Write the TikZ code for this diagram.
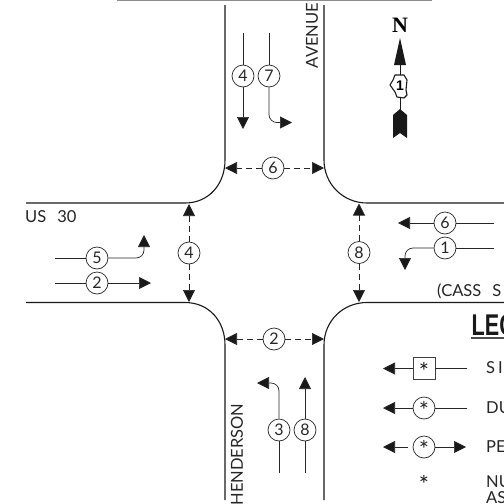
\documentclass[tikz,border=0pt]{standalone}
\usepackage{fontspec}
\setmainfont{Lato}
\newfontfamily\boldsans{Liberation Sans}
\newfontfamily\boldserif{Liberation Serif}
\usetikzlibrary{arrows.meta}
\tikzset{
  road/.style={line width=1.1pt,draw=black!90},
  flow/.style={line width=0.7pt,draw=black!85},
  tip/.style={-{Triangle[length=12pt,width=12pt,fill=black!90]}},
  ped/.style={line width=0.7pt,draw=black!85,dash pattern=on 6pt off 4pt},
  phase/.style={circle,draw=black!85,line width=0.7pt,fill=white,minimum size=22pt,inner sep=0pt,text=black!85,font=\fontsize{16}{16}\selectfont},
  cadtext/.style={inner sep=0pt,font=\fontsize{16.5}{17}\selectfont,text=black!85},
  sidetext/.style={cadtext,anchor=base west},
  starmark/.style={inner sep=0pt,text=black!90,font=\fontsize{24}{24}\selectfont}
}
\newcommand{\astmark}{\raisebox{-11.5pt}[0pt][0pt]{*}}
\begin{document}
\begin{tikzpicture}[x=1pt,y=-1pt]
\useasboundingbox (0,0) rectangle (504,504);
\fill[white] (0,0) rectangle (504,504);
% top edge
\draw[line width=1.5pt,draw=black!45] (117,0.5) -- (432,0.5);
% roads
\draw[road] (225,5) -- (225,160) .. controls (225,184) and (209,203) .. (185,203) -- (26,203);
\draw[road] (324,5) -- (324,160) .. controls (324,184) and (343,203) .. (367,203) -- (504,203);
\draw[road] (26,302.5) -- (185,302.5) .. controls (209,302.5) and (225,321) .. (225,345) -- (225,500);
\draw[road] (504,302.5) -- (367,302.5) .. controls (343,302.5) and (324,321) .. (324,345) -- (324,500);
% labels
\node[cadtext,rotate=90] (avenue) at (312,35.5) {AVENUE};
\node[cadtext,rotate=90] (henderson) at (237,454.5) {HENDERSON};
\node[sidetext] (us) at (25,222) {US\hspace{11pt}30};
\node[sidetext] (cass) at (437,296) {(CASS\hspace{11pt}S};
% south-bound
\node[phase] (a4) at (243,76) {4};
\node[phase] (a7) at (269,76) {7};
\coordinate (a4s) at (243,33); \coordinate (a4e) at (243,129);
\coordinate (a7s) at (269,33); \coordinate (a7e) at (292,122.5);
\draw[flow] (a4s) -- (a4);
\draw[flow,tip] (a4) -- (a4e);
\draw[flow] (a7s) -- (a7);
\draw[flow,tip,rounded corners=8pt] (a7) -- (269,122.5) -- (a7e);
% east-bound
\node[phase] (b5) at (97,258) {5};
\node[phase] (b2) at (97,283) {2};
\coordinate (b5s) at (55,258); \coordinate (b5e) at (144,235);
\coordinate (b2s) at (55,283); \coordinate (b2e) at (151,283);
\draw[flow] (b5s) -- (b5);
\draw[flow,tip,rounded corners=8pt] (b5) -- (144,258) -- (b5e);
\draw[flow] (b2s) -- (b2);
\draw[flow,tip] (b2) -- (b2e);
% west-bound
\node[phase] (c6) at (445,223) {6};
\node[phase] (c1) at (445,248) {1};
\coordinate (c6s) at (494,223); \coordinate (c6e) at (398,223);
\coordinate (c1s) at (494,248); \coordinate (c1e) at (405,270);
\draw[flow] (c6s) -- (c6);
\draw[flow,tip] (c6) -- (c6e);
\draw[flow] (c1s) -- (c1);
\draw[flow,tip,rounded corners=8pt] (c1) -- (405,248) -- (c1e);
% north-bound
\node[phase] (d3) at (279,430) {3};
\node[phase] (d8) at (305,430) {8};
\coordinate (d3s) at (279,473); \coordinate (d3e) at (257,383);
\coordinate (d8s) at (305,473); \coordinate (d8e) at (305,377);
\draw[flow] (d3s) -- (d3);
\draw[flow,tip,rounded corners=8pt] (d3) -- (279,383) -- (d3e);
\draw[flow] (d8s) -- (d8);
\draw[flow,tip] (d8) -- (d8e);
% pedestrian
\node[phase] (p6) at (273,168) {6};
\node[phase] (p2) at (274,339) {2};
\node[phase] (p4) at (189,253) {4};
\node[phase] (p8) at (359,252.5) {8};
\coordinate (p6l) at (225,168); \coordinate (p6r) at (324,168);
\coordinate (p2l) at (225,339); \coordinate (p2r) at (324,339);
\coordinate (p4t) at (189,204); \coordinate (p4b) at (189,302);
\coordinate (p8t) at (359,203.5); \coordinate (p8b) at (359,302);
\draw[ped,tip] (p6) -- (p6l); \draw[ped,tip] (p6) -- (p6r);
\draw[ped,tip] (p2) -- (p2l); \draw[ped,tip] (p2) -- (p2r);
\draw[ped,tip] (p4) -- (p4t); \draw[ped,tip] (p4) -- (p4b);
\draw[ped,tip] (p8) -- (p8t); \draw[ped,tip] (p8) -- (p8b);
% north arrow
\node[inner sep=0pt,font=\boldserif\bfseries\fontsize{22}{22}\selectfont] (north) at (400,25) {N};
\fill[black!90] (400,38) -- (406,65) -- (394,65) -- cycle;
\draw[line width=1pt,draw=black!90] (400,60) -- (400,115);
\draw[line width=1.1pt,draw=black!90,fill=white,line join=round] (395,75) -- (404,75) -- (407,80) -- (406,90) -- (407,95) -- (404,98) -- (397,97) -- (395,92) -- (390,85) -- (393,80) -- cycle;
\node[inner sep=0pt,font=\boldsans\bfseries\fontsize{14}{14}\selectfont] (shield) at (400,86) {1};
\fill[black!90] (400,109) -- (407,115) -- (407,138) -- (400,133) -- (393,138) -- (393,115) -- cycle;
% legend
\node[inner sep=0pt,anchor=base west,font=\boldsans\bfseries\fontsize{30}{30}\selectfont,text=black!90] (legend) at (471.5,335) {\scalebox{.72}[1]{LEG}};
\draw[line width=1.5pt,draw=black!70] (471,338) -- (504,338);
\node[draw=black!75,line width=0.8pt,fill=white,minimum width=22pt,minimum height=22pt,starmark] (l1) at (424,368.5) {\astmark};
\node[phase,font=\fontsize{24}{24}\selectfont] (l2) at (424,408) {\astmark};
\node[phase,font=\fontsize{24}{24}\selectfont] (l3) at (424,447) {\astmark};
\node[starmark] (l4) at (424,481.5) {\astmark};
\coordinate (l1s) at (467,368.5); \coordinate (l1e) at (383,368.5);
\coordinate (l2s) at (467,408); \coordinate (l2e) at (383,408);
\coordinate (l3a) at (408,447); \coordinate (l3b) at (383,447);
\coordinate (l3c) at (440,447); \coordinate (l3d) at (466,447);
\draw[flow] (l1s) -- (l1);
\draw[flow,tip] (l1) -- (l1e);
\draw[flow] (l2s) -- (l2);
\draw[flow,tip] (l2) -- (l2e);
\draw[flow,tip] (l3a) -- (l3b);
\draw[flow,tip,shorten <=10pt] (l3c) -- (l3d);
\draw[flow] (l3) -- (450,447);
\node[sidetext] (t1) at (486,373) {S\hspace{3pt}I};
\node[sidetext] (t2) at (486,413) {DU};
\node[sidetext] (t3) at (486,452) {PE};
\node[sidetext] (t4) at (486,487) {NU};
\node[sidetext] (t5) at (486,503) {AS};
\end{tikzpicture}
\end{document}
